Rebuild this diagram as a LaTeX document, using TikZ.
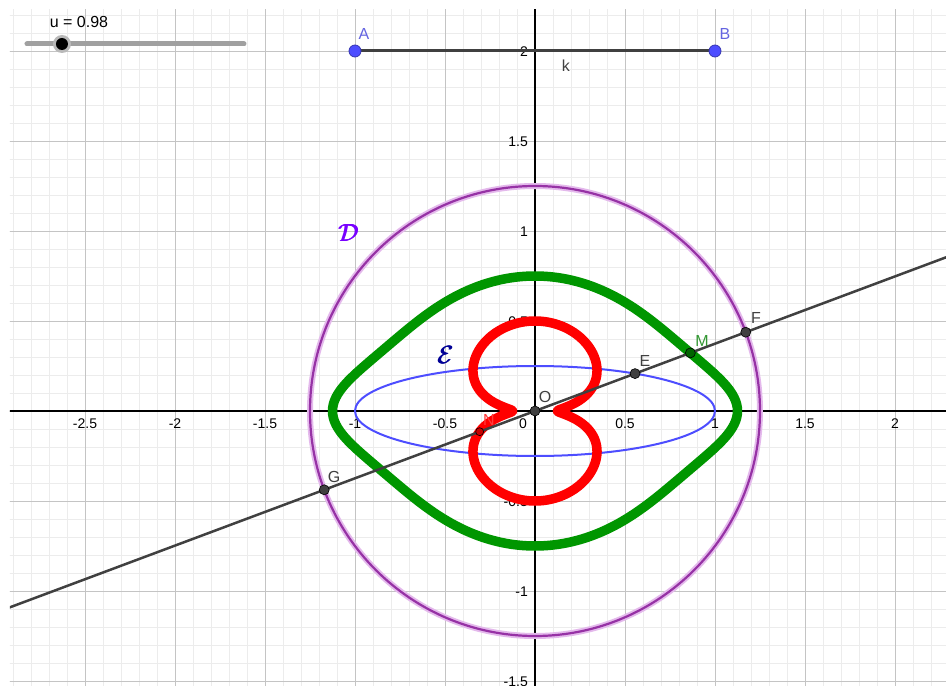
\documentclass[tikz,border=0pt]{standalone}
\usepackage{amsmath}
\usepackage{fontspec}
\setmainfont{Liberation Sans}
\usetikzlibrary{calc}
\definecolor{gminor}{RGB}{236,236,236}
\definecolor{gmajor}{RGB}{196,196,196}
\definecolor{ellblue}{RGB}{77,77,255}
\definecolor{circpurple}{RGB}{150,50,165}
\definecolor{circhalo}{RGB}{228,185,236}
\definecolor{curvegreen}{RGB}{0,150,0}
\definecolor{curvered}{RGB}{255,0,0}
\definecolor{linegray}{RGB}{64,64,64}
\definecolor{ptblue}{RGB}{77,77,255}
\definecolor{lblblue}{RGB}{100,100,225}
\definecolor{lblgreen}{RGB}{50,150,50}
\definecolor{lblviolet}{RGB}{120,0,255}
\definecolor{lblnavy}{RGB}{0,0,150}
\definecolor{slidergray}{RGB}{160,160,160}
\definecolor{nfill}{RGB}{200,0,0}
\definecolor{mfill}{RGB}{0,100,0}
\definecolor{lblred}{RGB}{255,60,60}
\tikzset{
  minorgrid/.style={draw=gminor,line width=0.8pt},
  majorgrid/.style={draw=gmajor,line width=0.9pt},
  axisline/.style={draw=black,line width=1.3pt},
  ticklbl/.style={font=\fontsize{14}{16}\selectfont,inner sep=0pt,text=black},
  ptlbl/.style={font=\fontsize{16}{18}\selectfont,inner sep=0pt,text=linegray},
  curvelbl/.style={font=\fontsize{24}{26}\selectfont,inner sep=0pt},
  darkpt/.style={circle,fill=linegray,draw=black,line width=0.6pt,minimum size=10pt,inner sep=0pt},
  bluept/.style={circle,fill=ptblue,draw=ptblue!70!black,line width=0.8pt,minimum size=12pt,inner sep=0pt},
  curvestyle/.style={line width=9.5pt,line join=round,line cap=round},
}
\begin{document}
\begin{tikzpicture}[x=180pt,y=180pt,
  declare function={rE(\t)=1/sqrt(cos(\t)^2+16*sin(\t)^2);}]
\useasboundingbox (-535pt,-275pt) rectangle (411pt,411pt);
\fill[white] (-535pt,-275pt) rectangle (411pt,411pt);
% grid and axes
\begin{scope}
\clip (-2.916667,-1.522222) rectangle (2.283333,2.227778);
\foreach \i in {-29,...,22} \draw[minorgrid] (\i/10,-1.6) -- (\i/10,2.3);
\foreach \j in {-15,...,22} \draw[minorgrid] (-3,\j/10) -- (2.3,\j/10);
\foreach \i in {-5,...,4} \draw[majorgrid] (\i/2,-1.6) -- (\i/2,2.3);
\foreach \j in {-3,...,4} \draw[majorgrid] (-3,\j/2) -- (2.3,\j/2);
\draw[axisline] (-3,0) -- (2.3,0);
\draw[axisline] (0,-1.6) -- (0,2.3);
\end{scope}
% tick labels
\foreach \v in {-2.5,-2,-1.5,-1,-0.5,0.5,1,1.5,2}
  \node[ticklbl] at ([yshift=-13pt]\v,0) {\v};
\node[ticklbl] at ([xshift=-12pt,yshift=-13pt]0,0) {0};
\foreach \v in {-1.5,-1,-0.5,0.5,1,1.5,2}
  \node[ticklbl,anchor=east] at ([xshift=-7pt,yshift=-1pt]0,\v) {\v};
% slider
\coordinate (s1) at (-508pt,367pt);
\coordinate (s2) at (-291pt,367pt);
\draw[slidergray,line width=5pt,line cap=round] (s1) -- (s2);
\fill[gray!55] (-473pt,367pt) circle (9pt);
\fill[black] (-473pt,367pt) circle (6pt);
\node[ptlbl,text=black] (ulbl) at (-456pt,389pt) {u = 0.98};
% curves
\draw[circhalo,line width=6pt] (0,0) circle (1.25);
\draw[circpurple,line width=2.2pt] (0,0) circle (1.25);
\draw[ellblue,line width=2pt] (0,0) ellipse (1 and 0.25);
\draw[curvegreen,curvestyle] plot[domain=0:360,samples=361,variable=\t] ({\t}:{(1.25+rE(\t))/2}) -- cycle;
\draw[curvered,curvestyle] plot[domain=0:360,samples=361,variable=\t] ({\t}:{(1.25-rE(\t))/2}) -- cycle;
% line through O
\coordinate (O) at (0,0);
\coordinate (F) at (20.5:1.25);
\coordinate (G) at (200.5:1.25);
\coordinate (E) at (20.5:{rE(20.5)});
\coordinate (M) at ($(E)!0.5!(F)$);
\coordinate (N) at ($0.5*(E)-0.5*(F)$);
\coordinate (L1) at ($(G)!-3!(F)$);
\coordinate (L2) at ($(F)!-3!(G)$);
\begin{scope}
\clip (-2.916667,-1.522222) rectangle (2.283333,2.227778);
\draw[linegray,line width=2.5pt] (L1) -- (L2);
\end{scope}
% segment AB
\coordinate (A) at (-1,2);
\coordinate (B) at (1,2);
\draw[linegray,line width=3pt] (A) -- (B);
\node[bluept] (Ap) at (A) {};
\node[bluept] (Bp) at (B) {};
\node[ptlbl,text=lblblue] (Al) at (-171pt,377pt) {A};
\node[ptlbl,text=lblblue] (Bl) at (190pt,377pt) {B};
\node[ptlbl] (kl) at (31pt,345pt) {k};
% points
\node[darkpt] (Op) at (O) {};
\node[darkpt] (Ep) at (E) {};
\node[darkpt] (Fp) at (F) {};
\node[darkpt] (Gp) at (G) {};
\node[darkpt,fill=mfill] (Mp) at (M) {};
\node[darkpt,fill=nfill,minimum size=8pt] (Np) at (N) {};
\node[ptlbl] (Ol) at (10pt,14pt) {O};
\node[ptlbl] (El) at (110pt,50pt) {E};
\node[ptlbl] (Fl) at (221pt,93pt) {F};
\node[ptlbl,text=lblgreen] (Ml) at (167pt,70pt) {M};
\node[ptlbl] (Gl) at (-201pt,-66pt) {G};
\node[ptlbl,text=lblred] (Nl) at (-46pt,-9pt) {N};
% curve names
\node[curvelbl,text=lblviolet] (Dl) at (-186pt,178pt) {$\pmb{\mathcal{D}}$};
\node[curvelbl,text=lblnavy] (Cl) at (-89pt,56pt) {$\pmb{\mathcal{E}}$};
\end{tikzpicture}
\end{document}
